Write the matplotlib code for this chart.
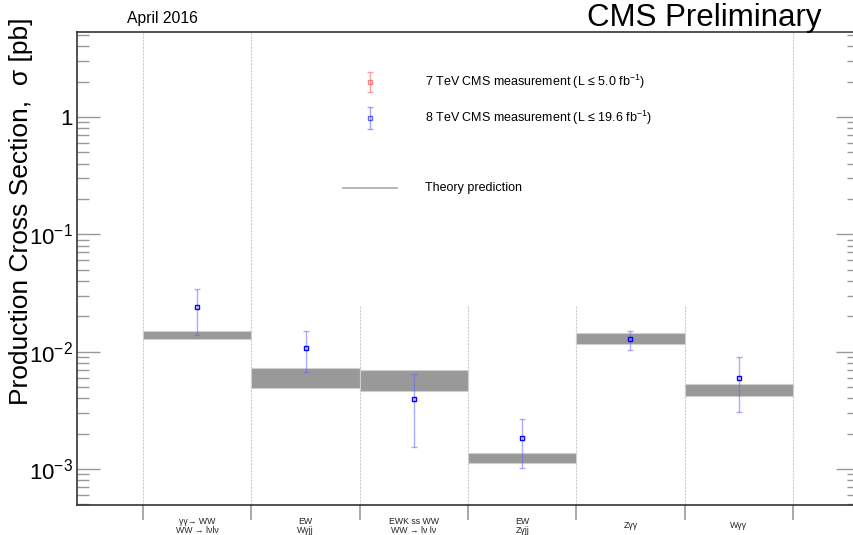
import matplotlib.pyplot as plt
import matplotlib.ticker as mticker
import numpy as np

plt.rcParams['font.family'] = ['Liberation Sans', 'DejaVu Sans']
plt.rcParams['mathtext.default'] = 'regular'

# category labels (one per bin)
labels = ["γγ→ WW\nWW → lνlν", "EW\nWγjj", "EWK ss WW\nWW → lν lν",
          "EW\nZγjj", "Zγγ", "Wγγ"]

# theory prediction band (low, high) in pb
theory_lo = [0.0128, 0.00486, 0.00461, 0.00112, 0.01154, 0.00421]
theory_hi = [0.0150, 0.00729, 0.00697, 0.00136, 0.01449, 0.00526]

# 8 TeV measurements: value, lower and upper edge of error bar
meas8 = [0.0239, 0.01074, 0.00397, 0.00182, 0.01273, 0.00596]
meas8_lo = [0.01377, 0.00666, 0.00153, 0.00102, 0.01032, 0.00304]
meas8_hi = [0.0340, 0.0150, 0.0064, 0.00265, 0.0150, 0.00894]

n = len(labels)
edges = np.arange(n + 1)
centers = edges[:-1] + 0.5

fig = plt.figure(figsize=(8.54, 5.35), dpi=100)
ax = fig.add_axes([77/854, 1 - 505/535, (859 - 77)/854, (505 - 32)/535])
ax.set_yscale('log')
ax.set_xlim(-0.61, n + 0.61)
ax.set_ylim(4.93e-4, 5.3)

# separators
for i, e in enumerate(edges):
    top = 5.3 if i in (0, 1, n) else 0.025
    ax.plot([e, e], [4.93e-4, top], color='#cccccc', lw=0.8, ls=(0, (2, 1)), zorder=1)

# theory bands
for i in range(n):
    ax.fill_between([edges[i], edges[i + 1]], theory_lo[i], theory_hi[i],
                    color='#999999', edgecolor='#cfcfcf', lw=0.8, zorder=2)

yerr = [np.array(meas8) - np.array(meas8_lo), np.array(meas8_hi) - np.array(meas8)]
ax.errorbar(centers, meas8, yerr=yerr, fmt='none', ecolor='#6666ff', alpha=0.55,
            elinewidth=1, capsize=2.5, capthick=1, zorder=3)
ax.plot(centers, meas8, 's', mfc='none', mec='#0000ff', ms=3.5, mew=1, zorder=4)

# axis styling
for s in ['top', 'bottom', 'left']:
    ax.spines[s].set_color('#333333')
    ax.spines[s].set_linewidth(1.2)
ax.spines['right'].set_visible(False)

ax.set_xticks(edges)
ax.set_xticklabels([])
ax.tick_params(axis='x', direction='out', length=11, color='#999999', width=1.2,
               top=False)
for c, lab in zip(centers, labels):
    ax.text(c, -0.044, lab, transform=ax.get_xaxis_transform(), ha='center',
            va='center', fontsize=6.3, linespacing=1.0, color='#222222')

ax.yaxis.set_major_locator(mticker.LogLocator(base=10))
ax.yaxis.set_minor_locator(mticker.LogLocator(base=10, subs=np.arange(2, 10)))
ax.yaxis.set_minor_formatter(mticker.NullFormatter())


def fmt(v, pos):
    e = int(round(np.log10(v)))
    return '1' if e == 0 else '$10^{%d}$' % e


ax.yaxis.set_major_formatter(mticker.FuncFormatter(fmt))
ax.tick_params(axis='y', which='major', direction='in', length=16.5, width=1,
               color='#999999', labelsize=16, pad=3, right=True)
ax.tick_params(axis='y', which='minor', direction='in', length=8.5, width=1,
               color='#999999', right=True)

ax.set_ylabel('Production Cross Section,  σ [pb]', fontsize=19, labelpad=4)
ax.yaxis.set_label_coords(-0.056, 0.62)

# legend drawn by hand
lx = 0.3747
ax.errorbar([lx], [0.894], yerr=[[0.021], [0.021]], transform=ax.transAxes,
            fmt='s', mfc='none', mec='#ff3333', ecolor='#ff6666', alpha=0.6,
            ms=3.5, capsize=2.5, elinewidth=1, clip_on=False)
ax.errorbar([lx], [0.818], yerr=[[0.023], [0.023]], transform=ax.transAxes,
            fmt='s', mfc='none', mec='#0000ff', ecolor='#6666ff', alpha=0.6,
            ms=3.5, capsize=2.5, elinewidth=1, clip_on=False)
ax.plot([0.340, 0.409], [0.670, 0.670], transform=ax.transAxes, color='#aaaaaa', lw=1.2)
ax.text(0.445, 0.894, r'7 TeV CMS measurement (L ≤ 5.0 fb$^{-1}$)', transform=ax.transAxes,
        va='center', fontsize=9)
ax.text(0.445, 0.818, r'8 TeV CMS measurement (L ≤ 19.6 fb$^{-1}$)', transform=ax.transAxes,
        va='center', fontsize=9)
ax.text(0.445, 0.670, 'Theory prediction', transform=ax.transAxes, va='center', fontsize=9)

fig.text(822/854, 1 - 18/535, 'CMS Preliminary', ha='right', va='center', fontsize=22.5)
fig.text(127/854, 1 - 19/535, 'April 2016', ha='left', va='center', fontsize=11.3)

fig.savefig('out.png', dpi=100)
